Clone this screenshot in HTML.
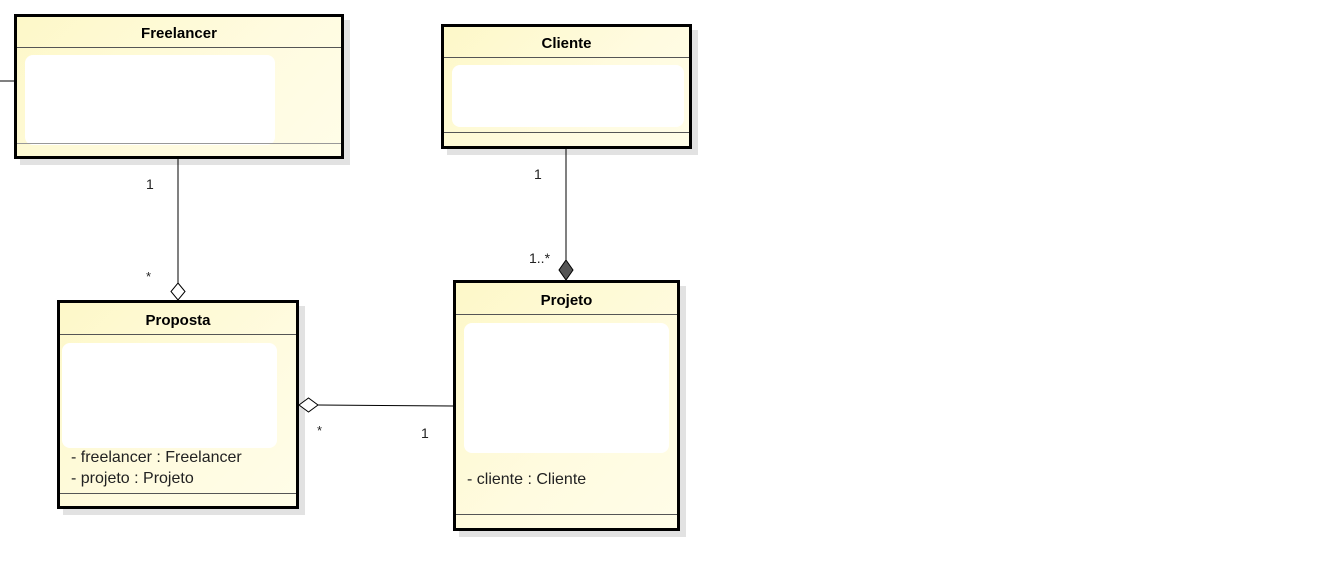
<!DOCTYPE html>
<html><head><style>
body{margin:0;width:1341px;height:584px;background:#fff;position:relative;overflow:hidden;font-family:"Liberation Sans",sans-serif}
.b{position:absolute;border:3px solid #000;box-sizing:border-box;background:linear-gradient(135deg,#fdf8c8 0%,#fffbe0 60%,#fffde8 100%);box-shadow:6px 6px 0 #e2e2e2}
.t{position:absolute;left:0;right:0;text-align:center;font-weight:bold;font-size:15px}
.l{position:absolute;left:0;right:0;border-top:1px solid #555}
.w{position:absolute;background:#fff}
.tx{position:absolute;font-size:16px;color:#222;white-space:nowrap}
</style></head><body>
<div class="b" style="left:14px;top:14px;width:330px;height:145px">
 <div class="t" style="top:8px">Freelancer</div><div class="l" style="top:30px"></div>
 <div class="w" style="left:8px;top:38px;width:250px;height:90px;border-radius:8px"></div>
 <div class="l" style="top:126px;border-color:#999"></div>
</div>
<div class="b" style="left:441px;top:24px;width:251px;height:125px">
 <div class="t" style="top:8px">Cliente</div><div class="l" style="top:30px"></div>
 <div class="w" style="left:8px;top:38px;width:232px;height:62px;border-radius:8px"></div>
 <div class="l" style="top:105px"></div>
</div>
<div class="b" style="left:57px;top:300px;width:242px;height:209px">
 <div class="t" style="top:9px">Proposta</div><div class="l" style="top:31px"></div>
 <div class="w" style="left:2px;top:40px;width:215px;height:105px;border-radius:8px"></div>
 <div class="tx" style="left:11px;top:146px">- freelancer : Freelancer</div>
 <div class="tx" style="left:11px;top:167px">- projeto : Projeto</div>
 <div class="l" style="top:190px"></div>
</div>
<div class="b" style="left:453px;top:280px;width:227px;height:251px">
 <div class="t" style="top:9px">Projeto</div><div class="l" style="top:31px"></div>
 <div class="w" style="left:8px;top:40px;width:205px;height:130px;border-radius:8px"></div>
 <div class="tx" style="left:11px;top:188px">- cliente : Cliente</div>
 <div class="l" style="top:231px"></div>
</div>
<svg width="1341" height="584" style="position:absolute;left:0;top:0">
 <line x1="0" y1="81" x2="14" y2="81" stroke="#000"/>
 <line x1="178" y1="159" x2="178" y2="283" stroke="#000"/>
 <polygon points="178,283 185,291.5 178,300 171,291.5" fill="#fff" stroke="#000"/>
 <line x1="566" y1="149" x2="566" y2="261" stroke="#000"/>
 <polygon points="566,260 573,270 566,280 559,270" fill="#555" stroke="#000"/>
 <line x1="318" y1="405" x2="453" y2="406" stroke="#000"/>
 <polygon points="299,405 308.5,398 318,405 308.5,412" fill="#fff" stroke="#000"/>
</svg>
<div class="tx" style="left:146px;top:176px;font-size:14px">1</div>
<div class="tx" style="left:146px;top:269px;font-size:13px">*</div>
<div class="tx" style="left:534px;top:166px;font-size:14px">1</div>
<div class="tx" style="left:529px;top:250px;font-size:14px">1..*</div>
<div class="tx" style="left:317px;top:423px;font-size:13px">*</div>
<div class="tx" style="left:421px;top:425px;font-size:14px">1</div>
</body></html>
